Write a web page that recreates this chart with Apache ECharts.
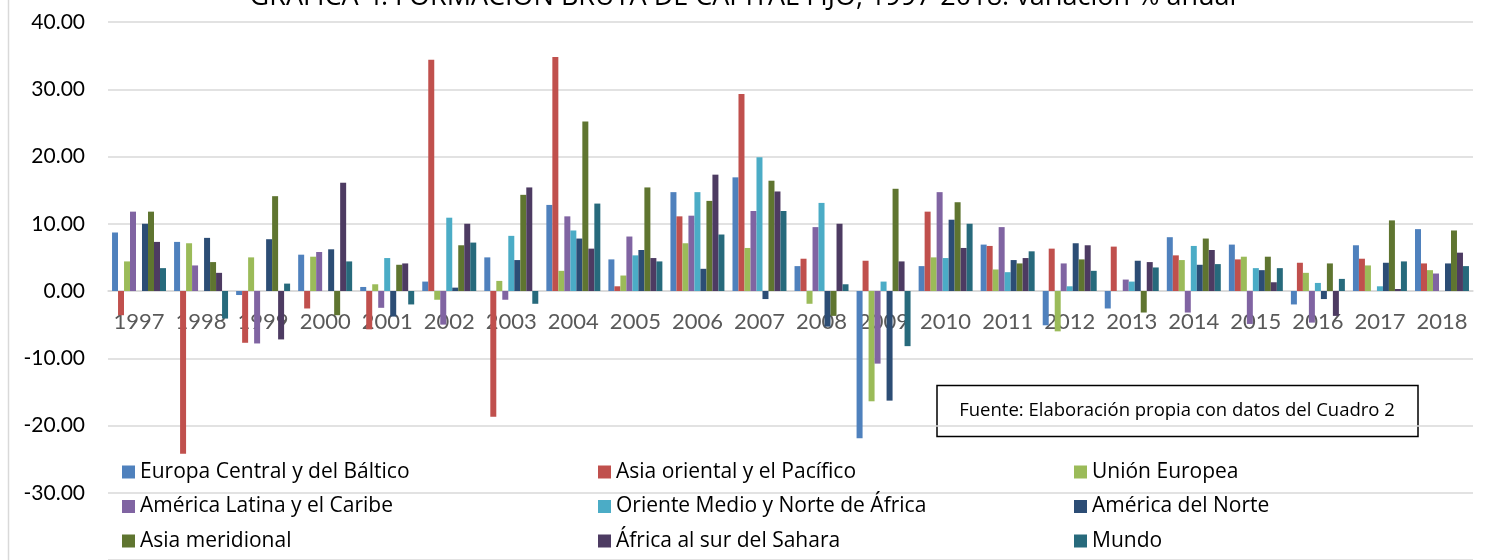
<!DOCTYPE html>
<html>
<head>
<meta charset="utf-8">
<script src="https://cdn.jsdelivr.net/npm/echarts@6/dist/echarts.min.js"></script>
<style>
  html, body { margin: 0; padding: 0; background: #fff; }
  #chart { width: 1486px; height: 560px; }
</style>
</head>
<body>
<div id="chart"></div>
<script>
// variación % anual
const years = ['1997', '1998', '1999', '2000', '2001', '2002', '2003', '2004', '2005', '2006', '2007',
  '2008', '2009', '2010', '2011', '2012', '2013', '2014', '2015', '2016', '2017', '2018']
const europaCentral = [8.7, 7.3, -0.6, 5.4, 0.6, 1.4, 5.0, 12.8, 4.7, 14.7, 16.9, 3.7, -21.9, 3.7, 6.9, -5.1, -2.6, 8.0, 6.9, -2.0, 6.8, 9.2]
const asiaOriental = [-3.6, -24.2, -7.7, -2.6, -5.7, 34.4, -18.7, 34.8, 0.7, 11.1, 29.3, 4.8, 4.5, 11.8, 6.7, 6.3, 6.6, 5.3, 4.7, 4.2, 4.8, 4.1]
const unionEuropea = [4.4, 7.1, 5.0, 5.1, 1.0, -1.3, 1.5, 3.0, 2.3, 7.1, 6.4, -1.9, -16.4, 5.0, 3.2, -6.0, 0, 4.6, 5.1, 2.7, 3.8, 3.1]
const americaLatina = [11.8, 3.8, -7.8, 5.8, -2.5, -5.0, -1.3, 11.1, 8.1, 11.2, 11.9, 9.5, -10.8, 14.7, 9.5, 4.1, 1.7, -3.2, -4.9, -4.7, 0, 2.6]
const orienteMedio = [null, null, null, null, 4.9, 10.9, 8.2, 9.0, 5.3, 14.7, 19.9, 13.1, 1.4, 4.9, 2.8, 0.7, 1.4, 6.7, 3.4, 1.2, 0.7, null]
const americaNorte = [10.0, 7.9, 7.7, 6.2, -3.8, 0.5, 4.6, 7.8, 6.1, 3.3, -1.2, -5.3, -16.3, 10.6, 4.6, 7.1, 4.5, 3.9, 3.1, -1.2, 4.2, 4.1]
const asiaMeridional = [11.8, 4.3, 14.1, -3.6, 3.9, 6.8, 14.3, 25.2, 15.4, 13.4, 16.4, -3.7, 15.2, 13.2, 4.1, 4.7, -3.2, 7.8, 5.1, 4.1, 10.5, 9.0]
const africaSahara = [7.3, 2.7, -7.2, 16.1, 4.1, 10.0, 15.4, 6.3, 4.9, 17.3, 14.8, 10.0, 4.4, 6.4, 4.9, 6.8, 4.3, 6.1, 1.3, -3.7, 0.3, 5.7]
const mundo = [3.4, -4.1, 1.1, 4.4, -2.0, 7.2, -1.9, 13.0, 4.4, 8.4, 11.9, 1.0, -8.2, 10.0, 5.9, 3.0, 3.5, 4.0, 3.4, 1.8, 4.4, 3.7]

const seriesNames = ['Europa Central y del Báltico', 'Asia oriental y el Pacífico', 'Unión Europea',
  'América Latina y el Caribe', 'Oriente Medio y Norte de África', 'América del Norte',
  'Asia meridional', 'África al sur del Sahara', 'Mundo']
const seriesData = [europaCentral, asiaOriental, unionEuropea, americaLatina, orienteMedio,
  americaNorte, asiaMeridional, africaSahara, mundo]

const font = 'Lato'
const textFont = 'Open Sans'
const legendBase = {
  orient: 'vertical',
  top: 455,
  itemWidth: 13,
  itemHeight: 13,
  itemGap: 10.5,
  icon: 'rect',
  selectedMode: false,
  textStyle: { fontFamily: textFont, fontSize: 21, color: '#000', lineHeight: 24 }
}

let myChart = echarts.init(document.getElementById('chart'))
myChart.setOption({
  animation: false,
  color: ['#4f81bd', '#c0504d', '#9bbb59', '#8064a2', '#4bacc6', '#2c4d75', '#5f7530', '#4d3b62', '#276a7c'],
  title: {
    text: 'GRÁFICA 4. FORMACIÓN BRUTA DE CAPITAL FIJO, 1997-2018: variación % anual',
    left: 'center',
    top: -21,
    textStyle: { fontFamily: textFont, fontSize: 27, fontWeight: 'normal', color: '#000' }
  },
  grid: {
    left: 108,
    right: 13,
    top: 22,
    bottom: 0,
    outerBoundsMode: 'none'
  },
  legend: [
    Object.assign({}, legendBase, { left: 117, data: [seriesNames[0], seriesNames[3], seriesNames[6]] }),
    Object.assign({}, legendBase, { left: 593, data: [seriesNames[1], seriesNames[4], seriesNames[7]] }),
    Object.assign({}, legendBase, { left: 1069, data: [seriesNames[2], seriesNames[5], seriesNames[8]] })
  ],
  xAxis: {
    type: 'category',
    data: years,
    // el eje de categorías va sobre la línea de cero (-40..40 en 538 px)
    offset: -269,
    axisLine: { onZero: false, lineStyle: { color: '#d9d9d9', width: 1.5 } },
    axisTick: { show: false },
    axisLabel: { interval: 0, margin: 20, fontFamily: font, fontSize: 22, color: '#595959' }
  },
  yAxis: {
    type: 'value',
    min: -40,
    max: 40,
    interval: 10,
    axisLine: { show: false },
    axisTick: { show: false },
    splitLine: { lineStyle: { color: '#d9d9d9', width: 1.5 } },
    axisLabel: {
      showMinLabel: false,
      margin: 23,
      fontFamily: font,
      fontSize: 21,
      color: '#000',
      formatter: v => v.toFixed(2)
    }
  },
  series: seriesNames.map((name, i) => ({
    name: name,
    type: 'bar',
    barGap: '0%',
    barCategoryGap: '13%',
    data: seriesData[i]
  })),
  graphic: [
    {
      type: 'line',
      shape: { x1: 8.5, y1: 0, x2: 8.5, y2: 560 },
      style: { stroke: '#d9d9d9', lineWidth: 1.5 }
    },
    {
      type: 'rect',
      shape: { x: 937, y: 385.5, width: 481, height: 51 },
      style: { fill: '#fff', stroke: '#000', lineWidth: 1.5 }
    },
    {
      type: 'text',
      x: 1177,
      y: 411,
      style: {
        text: 'Fuente: Elaboración propia con datos del Cuadro 2',
        fontFamily: textFont,
        fontSize: 18.5,
        fill: '#000',
        align: 'center',
        verticalAlign: 'middle'
      }
    }
  ]
})
</script>
</body>
</html>
